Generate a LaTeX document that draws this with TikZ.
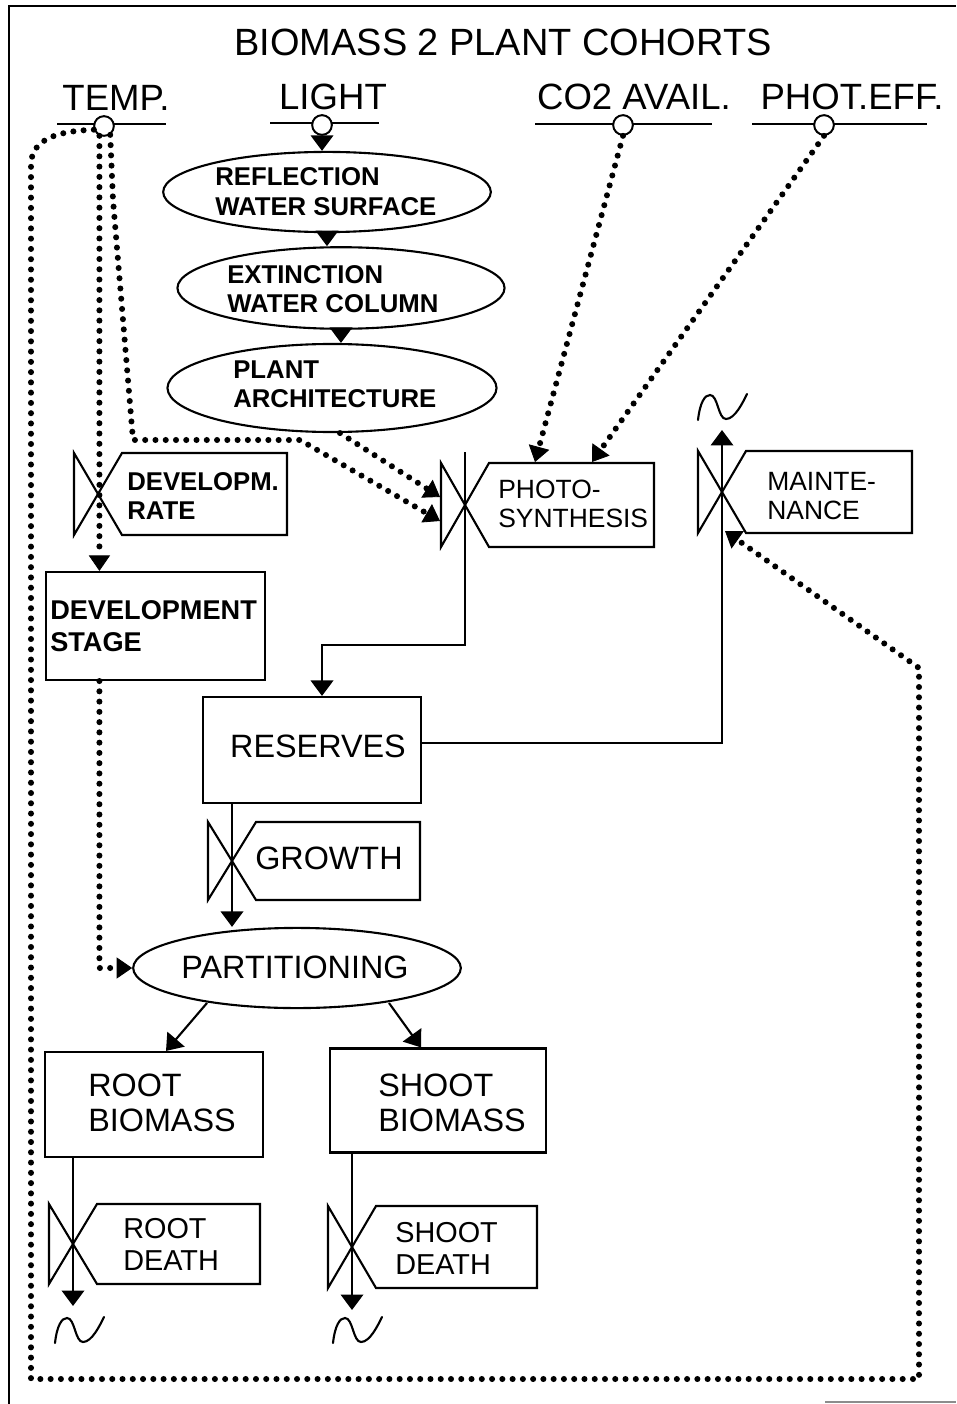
\documentclass[tikz,border=0pt]{standalone}
\usepackage{fontspec}
\setmainfont{Liberation Sans}
\usetikzlibrary{arrows.meta,shapes.geometric,calc}
\newcommand\valvebox[5]{%
  \coordinate (#1) at (#2,#3);
  \draw[flow,line join=miter] (#1) -- ++(-24,-#4) -- ++(0,2*#4) -- cycle;
  \draw[flow,line join=miter] (#1) -- ++(24,-#4) -- (#5,#3-#4) -- (#5,#3+#4) -- ($(#1)+(24,#4)$) -- cycle;
}
\newcommand\drawcloud[1]{%
  \begin{scope}[shift={#1}]
  \draw[flow,line cap=round] (0,26) .. controls (2,8) and (7,1) .. (12,1) .. controls (20,1) and (20,25) .. (28,25) .. controls (37,25) and (45,8) .. (49,0);
  \end{scope}
}
\begin{document}
\begin{tikzpicture}[x=0.025cm,y=-0.025cm,
  flow/.style={line width=1.5pt},
  farr/.style={flow,-{Triangle[length=11pt,width=16pt]}},
  infl/.style={line width=4.3pt,dash pattern=on 0pt off 7.3pt,line cap=round},
  iarr/.style={infl,-{Triangle[length=11pt,width=15pt,line width=0.6pt]}},
  circ/.style={circle,draw,line width=1.4pt,minimum size=14pt,inner sep=0pt,fill=white},
  ell/.style={ellipse,draw,line width=1.5pt,inner sep=0pt},
  box/.style={draw,line width=1.5pt,inner sep=0pt},
  ttl/.style={font=\fontsize{27pt}{30pt}\selectfont,inner sep=0pt},
  inp/.style={font=\fontsize{26pt}{28pt}\selectfont,inner sep=0pt},
  txs/.style={font=\bfseries\fontsize{18.3pt}{21pt}\selectfont,align=left,anchor=west,inner sep=0pt},
  txv/.style={font=\fontsize{18.8pt}{21pt}\selectfont,align=left,anchor=west,inner sep=0pt},
  txb/.style={font=\fontsize{23pt}{25pt}\selectfont,align=left,anchor=west,inner sep=0pt},
  txd/.style={font=\fontsize{20.5pt}{22.8pt}\selectfont,align=left,anchor=west,inner sep=0pt},
  txc/.style={font=\fontsize{23pt}{25pt}\selectfont,inner sep=0pt},
]
\useasboundingbox (0,0) rectangle (956,1404);
\fill[white] (0,0) rectangle (956,1404);
% frame
\draw[line width=1.6pt] (9,1404) -- (9,6) -- (956,6);
\draw[line width=1pt,black!45] (825,1402) -- (956,1402);
% title
\node[ttl] (title) at (503,42) {BIOMASS 2 PLANT COHORTS};
% inputs
\node[inp] (ltemp) at (116,98) {TEMP.};
\draw[flow] (57,124) -- (166,124);
\node[circ] (tempc) at (104,126) {};
\node[inp] (llight) at (333,97) {LIGHT};
\draw[flow] (270,123) -- (379,123);
\node[circ] (lightc) at (322,125) {};
\node[inp] (lco2) at (634,97) {CO2 AVAIL.};
\draw[flow] (535,124) -- (712,124);
\node[circ] (co2c) at (623,125) {};
\node[inp] (lphot) at (852,97) {PHOT.EFF.};
\draw[flow] (752,124) -- (927,124);
\node[circ] (photc) at (824,125) {};
% ellipses
\node[ell,minimum width=233pt,minimum height=57pt] (refl) at (327,192) {};
\node[txs] (reflt) at (215,191.5) {REFLECTION\\WATER SURFACE};
\node[ell,minimum width=232.6pt,minimum height=58pt] (ext) at (341,288) {};
\node[txs] (extt) at (227,289) {EXTINCTION\\WATER COLUMN};
\node[ell,minimum width=234pt,minimum height=62.6pt] (arch) at (332,388) {};
\node[txs] (archt) at (233,384.5) {PLANT\\ARCHITECTURE};
\node[ell,minimum width=233pt,minimum height=57pt] (part) at (297,968) {};
\node[txc] (partt) at (295,967) {PARTITIONING};
% valves
\valvebox{drv}{98}{494}{41}{287}
\node[txs] (drt) at (127,496) {DEVELOPM.\\RATE};
\valvebox{psv}{465}{505}{42}{654}
\node[txv] (pst) at (498,504) {PHOTO-\\SYNTHESIS};
\valvebox{mtv}{722}{492}{41}{912}
\node[txv] (mtt) at (767,496) {MAINTE-\\NANCE};
\valvebox{grv}{232}{861}{39}{420}
\node[txb] (grt) at (255,858) {GROWTH};
\valvebox{rdv}{73}{1244}{40}{260}
\node[txd] (rdt) at (123,1244) {ROOT\\DEATH};
\valvebox{sdv}{352}{1247}{41}{537}
\node[txd] (sdt) at (395,1248) {SHOOT\\DEATH};
% boxes
\node[box,minimum width=155.8pt,minimum height=76.8pt] (dev) at (155.5,626) {};
\node[font=\bfseries\fontsize{19.3pt}{22.8pt}\selectfont,align=left,anchor=west,inner sep=0pt] (devt) at (50,626) {DEVELOPMENT\\STAGE};
\node[box,minimum width=155pt,minimum height=75.4pt] (res) at (312,750) {};
\node[txc] (rest) at (318,746) {RESERVES};
\node[box,minimum width=155pt,minimum height=74.7pt] (rootb) at (154,1104.5) {};
\node[txb] (rootbt) at (88,1103) {ROOT\\BIOMASS};
\node[box,minimum width=153.6pt,minimum height=74pt] (shootb) at (438,1100.5) {};
\node[txb] (shootbt) at (378,1103) {SHOOT\\BIOMASS};
% solid flows
\draw[farr] (lightc.south) -- (lightc.south |- refl.north);
\draw[farr] (refl.south) -- (refl.south |- ext.north);
\draw[farr] (ext.south) -- (ext.south |- arch.north);
\draw[farr] ($(psv)+(0,-53)$) -- ($(psv)+(0,140)$) -| ($(res.north)+(10,0)$);
\draw[farr] ($(res.east)+(0,-7)$) -| ($(mtv)+(0,-62)$);
\draw[farr] (res.south -| grv) -- (grv |- part.north);
\draw[farr] ($(part.center)+(-90,35)$) -- ($(rootb.north)+(12,0)$);
\draw[farr] ($(part.center)+(92,35)$) -- ($(shootb.north)+(-17,0)$);
\draw[farr] (rootb.south -| rdv) -- ($(rdv)+(0,62)$);
\draw[farr] (shootb.south -| sdv) -- ($(sdv)+(0,63)$);
% clouds
\drawcloud{(698,394)}
\drawcloud{(55,1317)}
\drawcloud{(333,1317)}
% influences
\coordinate (tA) at (tempc.-115);
\draw[iarr] (tA) -- (tA |- dev.north);
\draw[iarr] (tempc.-55) -- (113,200) -- (133,440) -- (300,440) -- ($(psv)+(-25,16)$);
\draw[iarr] ($(arch.south)+(8,0)$) -- ($(psv)+(-25,-8)$);
\draw[iarr] (co2c.south) -- ($(psv)+(70,-43)$);
\draw[iarr] (photc.south) -- ($(psv)+(127,-43)$);
\draw[iarr] (tempc.200) .. controls (60,131) and (31,138) .. (31,165) -- (31,1379) -- (919,1379) -- (919,668) -- ($(mtv)+(3,39)$);
\draw[iarr] (dev.south -| tA) |- (part.west);
\end{tikzpicture}
\end{document}
